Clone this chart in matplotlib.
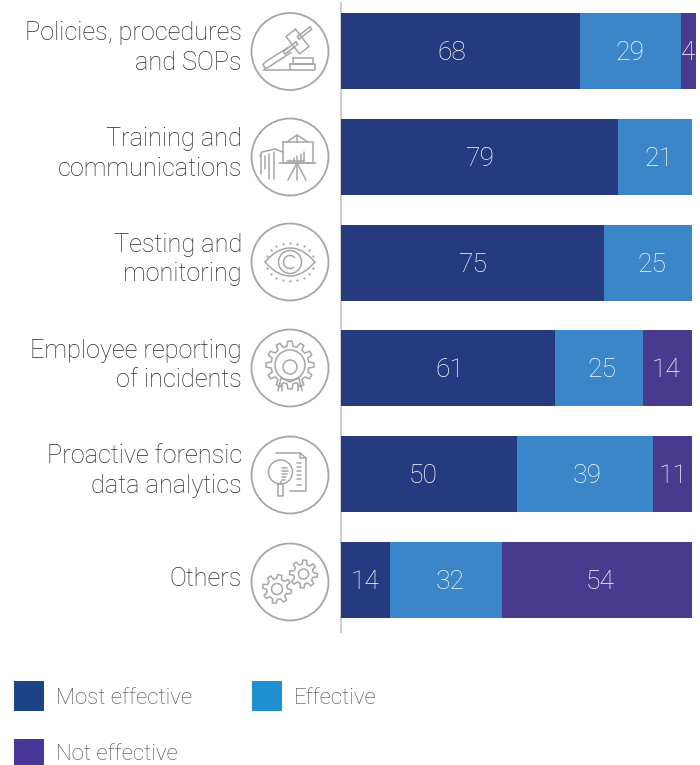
import matplotlib
matplotlib.use("Agg")
import matplotlib.pyplot as plt
import numpy as np
from matplotlib.patches import Arc, Circle, Polygon, Rectangle

categories = [
    "Policies, procedures\nand SOPs",
    "Training and\ncommunications",
    "Testing and\nmonitoring",
    "Employee reporting\nof incidents",
    "Proactive forensic\ndata analytics",
    "Others",
]
most_effective = [68, 79, 75, 61, 50, 14]
effective = [29, 21, 25, 25, 39, 32]
not_effective = [4, 0, 0, 14, 11, 54]

series_names = ["Most effective", "Effective", "Not effective"]
bar_colors = ["#263a80", "#3a86c8", "#483a8e"]
legend_colors = ["#1c4288", "#2190d0", "#483698"]

# small horizontal shifts of the value labels, in pixels
label_nudge = [
    [-9, 1, 1, 2, -6, -1],
    [-1, 4, 4, 3, 2, 4],
    [0, 0, 0, -1, 0, 3],
]

TEXT = "#2a2a2a"
ICON = "#a6a6a6"
LW = 1.1

plt.rcParams["font.family"] = ["Roboto", "DejaVu Sans"]

fig = plt.figure(figsize=(7, 7.65), dpi=100)

# bar axes fills the figure height, x scale is 3.51 px per percent
ax = fig.add_axes([341 / 700, 0, 359 / 700, 1])
ax.set_xlim(0, 359 / 3.51)
ax.set_ylim(6.749, -0.482)
ax.patch.set_alpha(0)

y = np.arange(len(categories))
left = np.zeros(len(categories))
for values, color, nudge in zip([most_effective, effective, not_effective], bar_colors, label_nudge):
    ax.barh(y, values, left=left, height=0.718, color=color, linewidth=0, zorder=3)
    for i, v in enumerate(values):
        if v:
            ax.annotate(str(v), xy=(left[i] + v / 2, i), xytext=(nudge[i], -2),
                        textcoords="offset pixels", ha="center", va="center", zorder=4,
                        color="white", fontsize=19, fontweight="light", annotation_clip=False)
    left += values

for side in ["top", "right", "bottom"]:
    ax.spines[side].set_visible(False)
ax.spines["left"].set_color("#cfcfcf")
ax.spines["left"].set_linewidth(1.5)
ax.spines["left"].set_zorder(1)
ax.spines["left"].set_bounds(-0.455, 5.495)
ax.set_xticks([])
ax.set_yticks([])

for i, name in enumerate(categories):
    # the one-line label sits a little lower than the two-line ones
    rise = 3 if "\n" in name else 1
    ax.annotate(name, xy=(0, i), xycoords=ax.get_yaxis_transform(), xytext=(-99, rise),
                textcoords="offset pixels", ha="right", va="center", color=TEXT,
                fontsize=18.2, fontweight="light", linespacing=1.3, annotation_clip=False)

# overlay in pixel units for the icons and the legend
ov = fig.add_axes([0, 0, 1, 1])
ov.set_xlim(0, 700)
ov.set_ylim(765, 0)
ov.axis("off")
ov.patch.set_alpha(0)


def stroke(cx, cy, xs, ys, lw=LW):
    ov.plot(np.array(xs) + cx, np.array(ys) + cy, color=ICON, lw=lw, solid_capstyle="round")


def box(cx, cy, center, w, h, angle=0.0):
    a = np.radians(angle)
    ux, uy = np.cos(a), np.sin(a)
    vx, vy = -uy, ux
    px, py = center
    corners = [(px + sx * w / 2 * ux + sy * h / 2 * vx, py + sx * w / 2 * uy + sy * h / 2 * vy)
               for sx, sy in [(-1, -1), (1, -1), (1, 1), (-1, 1), (-1, -1)]]
    xs, ys = zip(*corners)
    stroke(cx, cy, xs, ys)


def ring(cx, cy, px, py, r, lw=LW):
    ov.add_patch(Circle((cx + px, cy + py), r, fill=False, ec=ICON, lw=lw))


def gear(cx, cy, px, py, r_out, r_in, teeth, phase=0.0):
    pts = []
    step = 2 * np.pi / teeth
    for k in range(teeth):
        t = phase + k * step
        for off, r in [(-0.30, r_in), (-0.17, r_out), (0.17, r_out), (0.30, r_in)]:
            pts.append((cx + px + r * np.cos(t + off * step), cy + py + r * np.sin(t + off * step)))
    ov.add_patch(Polygon(pts, closed=True, fill=False, ec=ICON, lw=LW, joinstyle="round"))


def icon_gavel(cx, cy):
    box(cx, cy, (7.5, -10), 22, 12, 52)
    box(cx, cy, (0.5, -3.5), 3, 16, 52)
    box(cx, cy, (14.5, -18.5), 3, 16, 52)
    stroke(cx, cy, [-2, -24, -27, -25, -22, 1], [-4, 10, 13, 17, 16, 1])
    stroke(cx, cy, [0, 25, 25, 0, 0], [12, 12, 18, 18, 12])
    stroke(cx, cy, [3, 23, 23, 3, 3], [6, 6, 12, 12, 6])
    stroke(cx, cy, [-27, 0], [18, 18])


def icon_board(cx, cy):
    stroke(cx, cy, [-7, 23, 23, -7, -7], [-15, -15, 6, 6, -15])
    stroke(cx, cy, [-3, 7, 18], [-15, -22, -15])
    stroke(cx, cy, [7, 7], [-22, -15])
    stroke(cx, cy, [-11, 26], [6, 6])
    stroke(cx, cy, [7, -2], [6, 23])
    stroke(cx, cy, [7, 7], [6, 23])
    stroke(cx, cy, [7, 16], [6, 23])
    for bx, top in zip([0, 3.5, 7, 10.5, 14], [3, 1, -1, -3, -5]):
        stroke(cx, cy, [bx, bx], [top, 4])
    stroke(cx, cy, [-3, 3, 14], [4, 4, 4])
    stroke(cx, cy, [-30, -28, -15, -7], [-1, -5, -8, -5])
    for lx, top, bot in zip([-29, -25, -21, -16], [-3, -1, -3, -5], [17, 12, 22, 22]):
        stroke(cx, cy, [lx, lx], [top, bot])


def icon_eye(cx, cy):
    t = np.linspace(-1, 1, 40)
    stroke(cx, cy, 25 * t, -14 * (1 - t**2))
    stroke(cx, cy, 25 * t, 14 * (1 - t**2))
    ring(cx, cy, 0, 0, 11.5)
    ov.add_patch(Arc((cx, cy), 13, 13, theta1=50, theta2=320, ec=ICON, lw=LW))
    for a in np.linspace(200, 340, 9):
        ov.plot(cx + 24 * np.cos(np.radians(a)), cy + 19 * np.sin(np.radians(a)), ".", color=ICON, ms=1.3)
        ov.plot(cx + 24 * np.cos(np.radians(a)), cy - 19 * np.sin(np.radians(a)), ".", color=ICON, ms=1.3)


def icon_person_gear(cx, cy):
    gear(cx, cy, 0, -3, 24, 19, 12)
    ring(cx, cy, 0, -3, 15)
    ring(cx, cy, 0, -1, 7)
    stroke(cx, cy, [-12, -9, 0, 9, 12], [23, 10, 14, 10, 23])
    stroke(cx, cy, [-8, -8], [16, 23])
    stroke(cx, cy, [8, 8], [16, 23])


def icon_magnifier(cx, cy):
    ring(cx, cy, -9.5, -3, 12)
    stroke(cx, cy, [-14, 10, 16, 16, 0], [-22, -22, -17, 16, 16])
    stroke(cx, cy, [10, 10, 16], [-22, -17, -17])
    box(cx, cy, (-9.5, 15), 5, 12)
    stroke(cx, cy, [-9.5, -9.5], [9, 6])
    for ly, x0, x1 in zip([-7, -4, -1, 2, 5], [-8, -8, -8, -8, -8], [-3, -2, -3, -4, -5]):
        stroke(cx, cy, [x0, x1], [ly, ly])
    for ly in [-12, -8, -4, 0, 4, 10]:
        stroke(cx, cy, [7, 11], [ly, ly])


def icon_gears(cx, cy):
    gear(cx, cy, -13, 7, 14.5, 10.5, 8, 0.2)
    ring(cx, cy, -13, 7, 5.5)
    gear(cx, cy, 13.5, -8, 14, 10, 8, 0.1)
    ring(cx, cy, 13.5, -8, 5)


icon_funcs = [icon_gavel, icon_board, icon_eye, icon_person_gear, icon_magnifier, icon_gears]
icon_y = [51.5, 157, 262, 368, 475, 582]
for func, cy in zip(icon_funcs, icon_y):
    ring(290, cy, 0, 0, 38.5, lw=1.3)
    func(290, cy)

# legend swatches and names
legend_slots = [(14, 681, 30), (252, 681, 30), (14, 739, 26)]
legend_text_y = [699, 699, 755]
for (x0, y0, h), color, name, ty in zip(legend_slots, legend_colors, series_names, legend_text_y):
    ov.add_patch(Rectangle((x0, y0), 30, h, fc=color, ec="none"))
    ov.text(x0 + 42, ty, name, ha="left", va="center", color="#484848", fontsize=16, fontweight="light")

fig.savefig("out.png", dpi=100)
plt.close(fig)
